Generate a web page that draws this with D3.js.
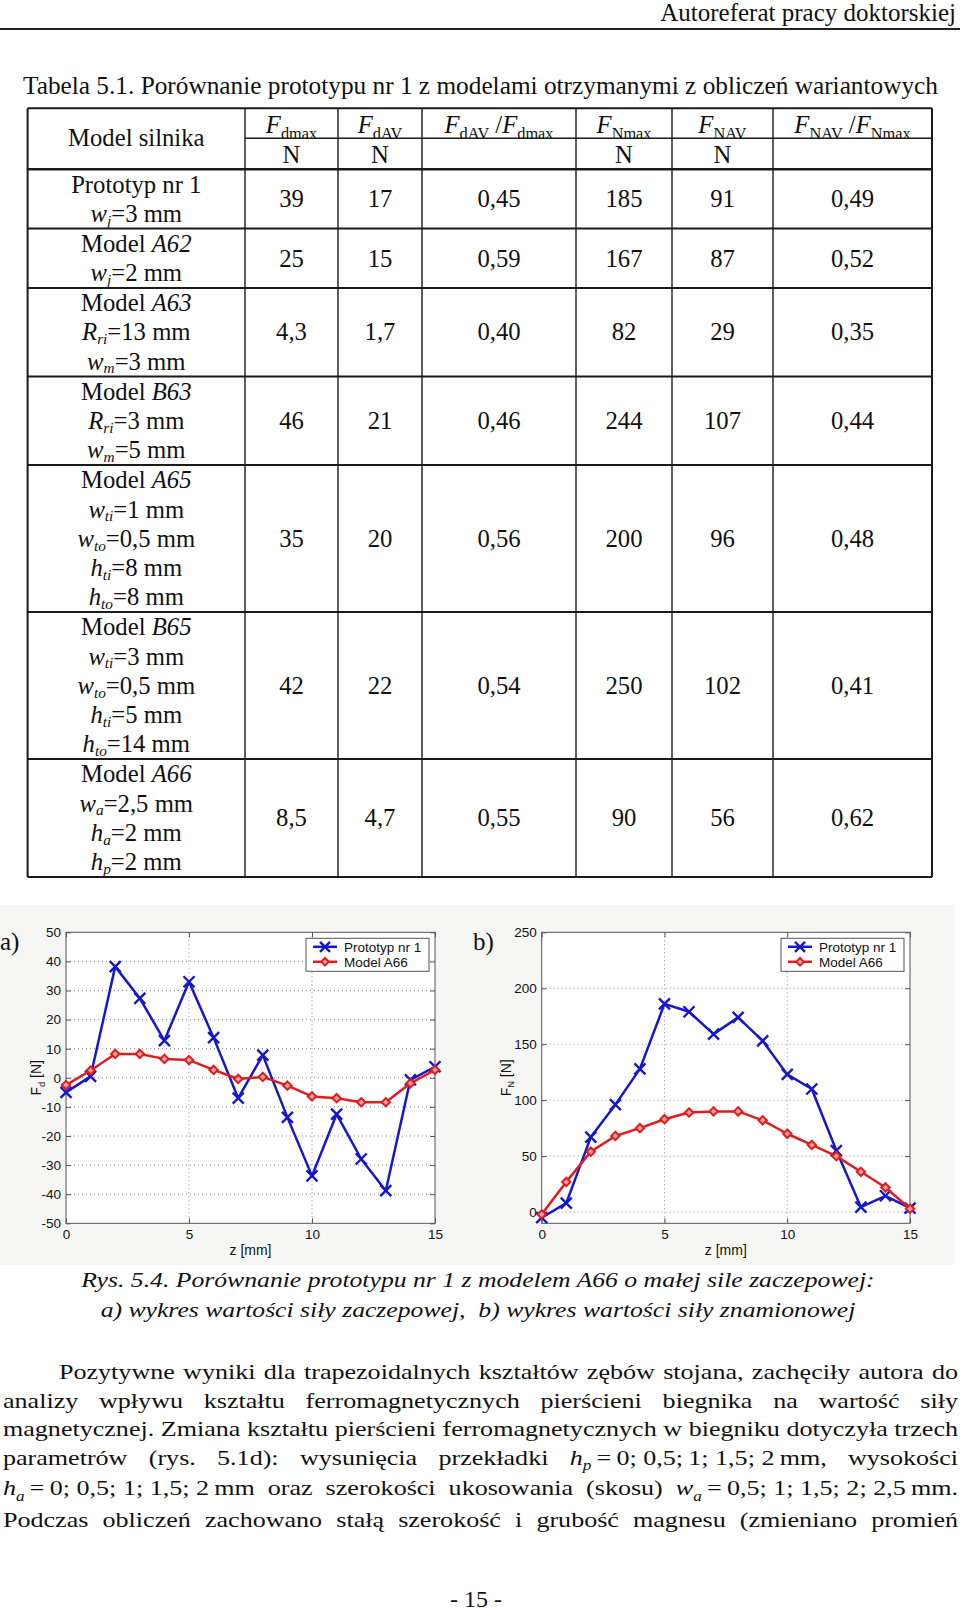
<!DOCTYPE html>
<html><head><meta charset="utf-8">
<script src="https://cdn.jsdelivr.net/npm/d3@7/dist/d3.min.js"></script>
<style>
html,body{margin:0;padding:0;background:#fff;}
svg{display:block;}
text{white-space:pre;}
</style></head>
<body>
<svg id="page" width="960" height="1613"></svg>
<script>
// ---------------- DATA ----------------
const zValues = [0,1,2,3,4,5,6,7,8,9,10,11,12,13,14,15];
const fdPrototyp = [-5, 0.5, 38.2, 27.3, 12.8, 33, 13.8, -7, 7.8, -13.6, -33.7, -12.5, -27.9, -38.8, -0.7, 3.8];
const fdModelA66 = [-2.5, 2.5, 8.2, 8.2, 6.5, 6.1, 2.7, -0.4, 0.3, -2.7, -6.4, -7, -8.4, -8.4, -1.9, 2.7];
const fnPrototyp = [-5, 8, 67, 96, 128, 186, 179, 159, 174, 153, 123, 110, 55, 4.5, 14.6, 3.6];
const fnModelA66 = [-2, 27, 54, 68, 75, 83, 89, 90, 90, 82, 70, 60, 50, 36, 22, 3];
const seriesNames = ["Prototyp nr 1", "Model A66"];
const xTicks = [0, 5, 10, 15];
const fdTicks = [-50,-40,-30,-20,-10,0,10,20,30,40,50];
const fnTicks = [0,50,100,150,200,250];

const colHeaders = ["*F*~{dmax}", "*F*~{dAV}", "*F*~{dAV} /*F*~{dmax}", "*F*~{Nmax}", "*F*~{NAV}", "*F*~{NAV} /*F*~{Nmax}"];
const colUnits = ["N","N","","N","N",""];
const modelLabels = [
  ["Prototyp nr 1", "*w*_{j}=3 mm"],
  ["Model *A62*", "*w*_{j}=2 mm"],
  ["Model *A63*", "*R*_{ri}=13 mm", "*w*_{m}=3 mm"],
  ["Model *B63*", "*R*_{ri}=3 mm", "*w*_{m}=5 mm"],
  ["Model *A65*", "*w*_{ti}=1 mm", "*w*_{to}=0,5 mm", "*h*_{ti}=8 mm", "*h*_{to}=8 mm"],
  ["Model *B65*", "*w*_{ti}=3 mm", "*w*_{to}=0,5 mm", "*h*_{ti}=5 mm", "*h*_{to}=14 mm"],
  ["Model *A66*", "*w*_{a}=2,5 mm", "*h*_{a}=2 mm", "*h*_{p}=2 mm"]
];
const fdMax   = [39, 25, 4.3, 46, 35, 42, 8.5];
const fdAv    = [17, 15, 1.7, 21, 20, 22, 4.7];
const fdRatio = [0.45, 0.59, 0.40, 0.46, 0.56, 0.54, 0.55];
const fnMax   = [185, 167, 82, 244, 200, 250, 90];
const fnAv    = [91, 87, 29, 107, 96, 102, 56];
const fnRatio = [0.49, 0.52, 0.35, 0.44, 0.48, 0.41, 0.62];

const pageHeader = "Autoreferat pracy doktorskiej";
const tableTitle = "Tabela 5.1. Porównanie prototypu nr 1 z modelami otrzymanymi z obliczeń wariantowych";
const captionLines = ["Rys. 5.4. Porównanie prototypu nr 1 z modelem A66 o małej sile zaczepowej:",
                      "a) wykres wartości siły zaczepowej,  b) wykres wartości siły znamionowej"];
const paraLines = [
  "Pozytywne wyniki dla trapezoidalnych kształtów zębów stojana, zachęciły autora do".split(" "),
  "analizy wpływu kształtu ferromagnetycznych pierścieni biegnika na wartość siły".split(" "),
  "magnetycznej. Zmiana kształtu pierścieni ferromagnetycznych w biegniku dotyczyła trzech".split(" "),
  ["parametrów","(rys.","5.1d):","wysunięcia","przekładki","*h*_{p}\u2009=\u20090; 0,5;\u20091; 1,5; 2\u2009mm,","wysokości"],
  ["*h*_{a}\u2009=\u20090; 0,5; 1; 1,5; 2\u2009mm","oraz","szerokości","ukosowania","(skosu)","*w*_{a}\u2009=\u20090,5; 1; 1,5; 2; 2,5\u2009mm."],
  "Podczas obliczeń zachowano stałą szerokość i grubość magnesu (zmieniano promień".split(" ")
];
const pageNumber = "- 15 -";

// ---------------- HELPERS ----------------
const SERIF = "'Liberation Serif','Times New Roman',Times,serif";
const SANS = "'Liberation Sans',Arial,Helvetica,sans-serif";
const svg = d3.select("#page");
svg.append("rect").attr("width",960).attr("height",1613).attr("fill","#fff");

function rich(t, str, size, subShift, subScale) {
  const parts = str.split(/(\*[^*]+\*|_\{[^}]*\}|~\{[^}]*\})/).filter(s => s.length);
  let shifted = false;
  const sh = size * (subShift || 0.25);
  const ss = subScale || 0.66;
  parts.forEach(p => {
    const ts = t.append("tspan");
    let content = p, italic = false, sub = false;
    if (p.startsWith("*")) { content = p.slice(1,-1); italic = true; }
    else if (p.startsWith("_{")) { content = p.slice(2,-1); italic = true; sub = true; }
    else if (p.startsWith("~{")) { content = p.slice(2,-1); sub = true; }
    if (sub) { ts.attr("dy", shifted ? 0 : sh).attr("font-size", size*ss); shifted = true; }
    else if (shifted) { ts.attr("dy", -sh); shifted = false; }
    if (italic) ts.attr("font-style","italic");
    ts.text(content);
  });
  return t;
}
function txt(parent, x, y, str, size, anchor, family, extra, subShift, subScale) {
  const t = parent.append("text").attr("x", x).attr("y", y)
    .attr("font-family", family || SERIF).attr("font-size", size)
    .attr("text-anchor", anchor || "start").attr("fill", "#111");
  if (extra) extra(t);
  return rich(t, str, size, subShift, subScale);
}
// horizontally stretched text (the scanned page is slightly wider than Times)
function stxt(parent, x, y, str, size, sx, anchor, italic) {
  const t = parent.append("text").attr("transform", `translate(${x},${y}) scale(${sx},1)`)
    .attr("font-family", SERIF).attr("font-size", size)
    .attr("text-anchor", anchor || "start").attr("fill", "#111");
  if (italic) t.attr("font-style","italic");
  return rich(t, str, size);
}
const fmtNum = v => String(v).replace(".", ",");
const fmtRatio = v => d3.format(".2f")(v).replace(".", ",");

// ---------------- PAGE HEADER ----------------
txt(svg, 956, 21, pageHeader, 25, "end");
svg.append("line").attr("x1",0).attr("x2",960).attr("y1",29).attr("y2",29)
  .attr("stroke","#222").attr("stroke-width",2);

// ---------------- TABLE ----------------
txt(svg, 23, 94, tableTitle, 25.3, "start");
const colX = [27.6, 245, 338, 422, 576, 672, 773, 932];
const headTop = 108.3, headMid = 138.3, headBot = 169.3;
const lineH = 29.25;
const TS = 24.7;
const tbl = svg.append("g");
const rowTops = [headBot];
modelLabels.forEach(lbl => rowTops.push(rowTops[rowTops.length-1] + lbl.length*lineH + 0.8));
const cx = i => (colX[i] + colX[i+1]) / 2;
txt(tbl, cx(0), 146, "Model silnika", TS, "middle");
colHeaders.forEach((h,i) => txt(tbl, cx(i+1), 133, h, TS, "middle"));
colUnits.forEach((u,i) => { if (u) txt(tbl, cx(i+1), 162.5, u, TS, "middle"); });
const colsData = [fdMax.map(fmtNum), fdAv.map(fmtNum), fdRatio.map(fmtRatio), fnMax.map(fmtNum), fnAv.map(fmtNum), fnRatio.map(fmtRatio)];
modelLabels.forEach((lbl, r) => {
  const top = rowTops[r], bot = rowTops[r+1], mid = (top + bot) / 2;
  const n = lbl.length;
  lbl.forEach((l, k) => txt(tbl, cx(0), mid + 8.3 + (k - (n-1)/2) * lineH, l, TS, "middle", SERIF, null, 0.15, 0.62));
  colsData.forEach((col, c) => txt(tbl, cx(c+1), mid + 8.3, col[r], TS, "middle"));
});
const tableBottom = rowTops[rowTops.length-1];
const lc = "#1a1a1a";
colX.forEach((x,i) => {
  tbl.append("line").attr("x1",x).attr("x2",x).attr("y1",headTop).attr("y2",tableBottom)
    .attr("stroke",lc).attr("stroke-width", (i===0||i===colX.length-1) ? 2 : 1.4);
});
tbl.append("line").attr("x1",colX[1]).attr("x2",colX[7]).attr("y1",headMid).attr("y2",headMid).attr("stroke",lc).attr("stroke-width",1.6);
tbl.append("line").attr("x1",colX[0]).attr("x2",colX[7]).attr("y1",headTop).attr("y2",headTop).attr("stroke",lc).attr("stroke-width",2);
rowTops.forEach((y,i) => {
  tbl.append("line").attr("x1",colX[0]).attr("x2",colX[7]).attr("y1",y).attr("y2",y)
    .attr("stroke",lc).attr("stroke-width", i===0 ? 2.6 : 2);
});

// ---------------- FIGURE ----------------
svg.append("rect").attr("x",0).attr("y",905).attr("width",955).attr("height",360).attr("fill","#f6f6f4");
const BLUE = "#1616cc", RED = "#e01c1c";

function drawChart(o) {
  const g = svg.append("g");
  const x = d3.scaleLinear().domain([0,15]).range([o.left, o.right]);
  const y = d3.scaleLinear().domain(o.yDomain).range([o.bottom, o.top]);
  g.append("rect").attr("x",o.left).attr("y",o.top).attr("width",o.right-o.left).attr("height",o.bottom-o.top).attr("fill","#fff");
  g.selectAll(".gx").data(o.xTicks.filter(v => x(v) > o.left+1 && x(v) < o.right-1)).enter().append("line")
    .attr("x1", d => x(d)).attr("x2", d => x(d)).attr("y1", o.top).attr("y2", o.bottom)
    .attr("stroke","#8a8a8a").attr("stroke-width",1).attr("stroke-dasharray","1,3");
  g.selectAll(".gy").data(o.yTicks.filter(v => y(v) > o.top+1 && y(v) < o.bottom-1)).enter().append("line")
    .attr("x1", o.left).attr("x2", o.right).attr("y1", d => y(d)).attr("y2", d => y(d))
    .attr("stroke","#8a8a8a").attr("stroke-width",1).attr("stroke-dasharray","1,3");
  const styleAx = sel => { sel.select(".domain").remove(); sel.selectAll("line").attr("stroke","#555");
    sel.selectAll("text").attr("font-family",SANS).attr("font-size",13.5).attr("fill","#111"); };
  const plain = d => String(d);
  g.append("g").attr("transform",`translate(0,${o.bottom})`).call(d3.axisBottom(x).tickValues(o.xTicks).tickFormat(plain).tickSize(-5).tickPadding(6)).call(styleAx);
  g.append("g").attr("transform",`translate(0,${o.top})`).call(d3.axisTop(x).tickValues(o.xTicks).tickSize(-5).tickFormat("")).call(styleAx);
  g.append("g").attr("transform",`translate(${o.left},0)`).call(d3.axisLeft(y).tickValues(o.yTicks).tickFormat(plain).tickSize(-5).tickPadding(5)).call(styleAx);
  g.append("g").attr("transform",`translate(${o.right},0)`).call(d3.axisRight(y).tickValues(o.yTicks).tickSize(-5).tickFormat("")).call(styleAx);
  g.append("rect").attr("x",o.left).attr("y",o.top).attr("width",o.right-o.left).attr("height",o.bottom-o.top)
    .attr("fill","none").attr("stroke","#555").attr("stroke-width",1);
  txt(g, (o.left+o.right)/2, o.bottom + 32, "z [mm]", 14, "middle", SANS);
  const yl = g.append("text").attr("transform", `translate(${o.left-o.yLabelOff},${(o.top+o.bottom)/2}) rotate(-90)`)
    .attr("font-family",SANS).attr("font-size",14).attr("text-anchor","middle").attr("fill","#111");
  rich(yl, o.yLabel, 14);
  const line = d3.line().x((d,i) => x(zValues[i])).y(d => y(d));
  const drawX = (sel, s) => sel.append("path").attr("d", `M${-s},${-s}L${s},${s}M${-s},${s}L${s},${-s}`)
    .attr("stroke",BLUE).attr("stroke-width",2.4).attr("fill","none");
  const drawD = (sel, s) => sel.append("path").attr("d", `M0,${-s}L${s},0L0,${s}L${-s},0Z`)
    .attr("stroke",RED).attr("stroke-width",2).attr("fill","#f0a0a0");
  g.append("path").datum(o.s1).attr("d", line).attr("fill","none").attr("stroke",BLUE).attr("stroke-width",2.5).attr("stroke-linejoin","round");
  g.selectAll(".m1").data(o.s1).enter().append("g").attr("transform",(d,i) => `translate(${x(zValues[i])},${y(d)})`).each(function(){ drawX(d3.select(this),5.5); });
  g.append("path").datum(o.s2).attr("d", line).attr("fill","none").attr("stroke",RED).attr("stroke-width",2.5).attr("stroke-linejoin","round");
  g.selectAll(".m2").data(o.s2).enter().append("g").attr("transform",(d,i) => `translate(${x(zValues[i])},${y(d)})`).each(function(){ drawD(d3.select(this),4.2); });
  const lw = 123, lh = 33, lx = o.right - 6 - lw, ly = o.top + 6;
  const lg = g.append("g");
  lg.append("rect").attr("x",lx).attr("y",ly).attr("width",lw).attr("height",lh).attr("fill","#fff").attr("stroke","#555").attr("stroke-width",1);
  seriesNames.forEach((nm,i) => {
    const yy = ly + 8.5 + i*15;
    const col = i === 0 ? BLUE : RED;
    lg.append("line").attr("x1",lx+7).attr("x2",lx+31).attr("y1",yy).attr("y2",yy).attr("stroke",col).attr("stroke-width",2.5);
    const mg = lg.append("g").attr("transform",`translate(${lx+19},${yy})`);
    if (i === 0) drawX(mg, 5); else drawD(mg, 3.8);
    txt(lg, lx+38, yy+5, nm, 13.5, "start", SANS);
  });
  txt(svg, o.tagX, 950, o.tag, 25, "start");
}
drawChart({left:66, right:435, top:932.3, bottom:1223.3, yDomain:[-50,50], yTicks:fdTicks, xTicks:xTicks,
  s1:fdPrototyp, s2:fdModelA66, yLabel:"F~{d} [N]", yLabelOff:25, tag:"a)", tagX:0});
drawChart({left:541.7, right:910, top:932.3, bottom:1223.3, yDomain:[-10,250], yTicks:fnTicks, xTicks:xTicks,
  s1:fnPrototyp, s2:fnModelA66, yLabel:"F~{N} [N]", yLabelOff:31, tag:"b)", tagX:473});

// ---------------- PARAGRAPH (justified) + CAPTION ----------------
const PS = 22;
{
  const pg = svg.append("g");
  // horizontal stretch so that line 3 fits the text block with natural word spacing
  const probeWords = paraLines[2].map(w => stxt(pg, 0, -100, w, PS, 1));
  const sum3 = d3.sum(probeWords, n => n.node().getComputedTextLength());
  probeWords.forEach(n => n.remove());
  const sx = 955 / (sum3 + (paraLines[2].length - 1) * PS * 0.25);

  captionLines.forEach((c,i) => stxt(svg, 478, 1287 + i*30, c, PS, sx * 0.985, "middle", true));

  const baselines = [1379, 1407.5, 1436, 1464.5, 1495, 1527];
  paraLines.forEach((words, li) => {
    const x0 = li === 0 ? 59 : 3, x1 = 958, yb = baselines[li];
    const nodes = words.map(w => stxt(pg, 0, yb, w, PS, sx));
    const widths = nodes.map(n => n.node().getComputedTextLength() * sx);
    const gap = (x1 - x0 - d3.sum(widths)) / (words.length - 1);
    let cur = x0;
    nodes.forEach((n,i) => { n.attr("transform", `translate(${cur},${yb}) scale(${sx},1)`); cur += widths[i] + gap; });
  });
}

txt(svg, 476, 1607, pageNumber, 24, "middle");
</script>
</body></html>
